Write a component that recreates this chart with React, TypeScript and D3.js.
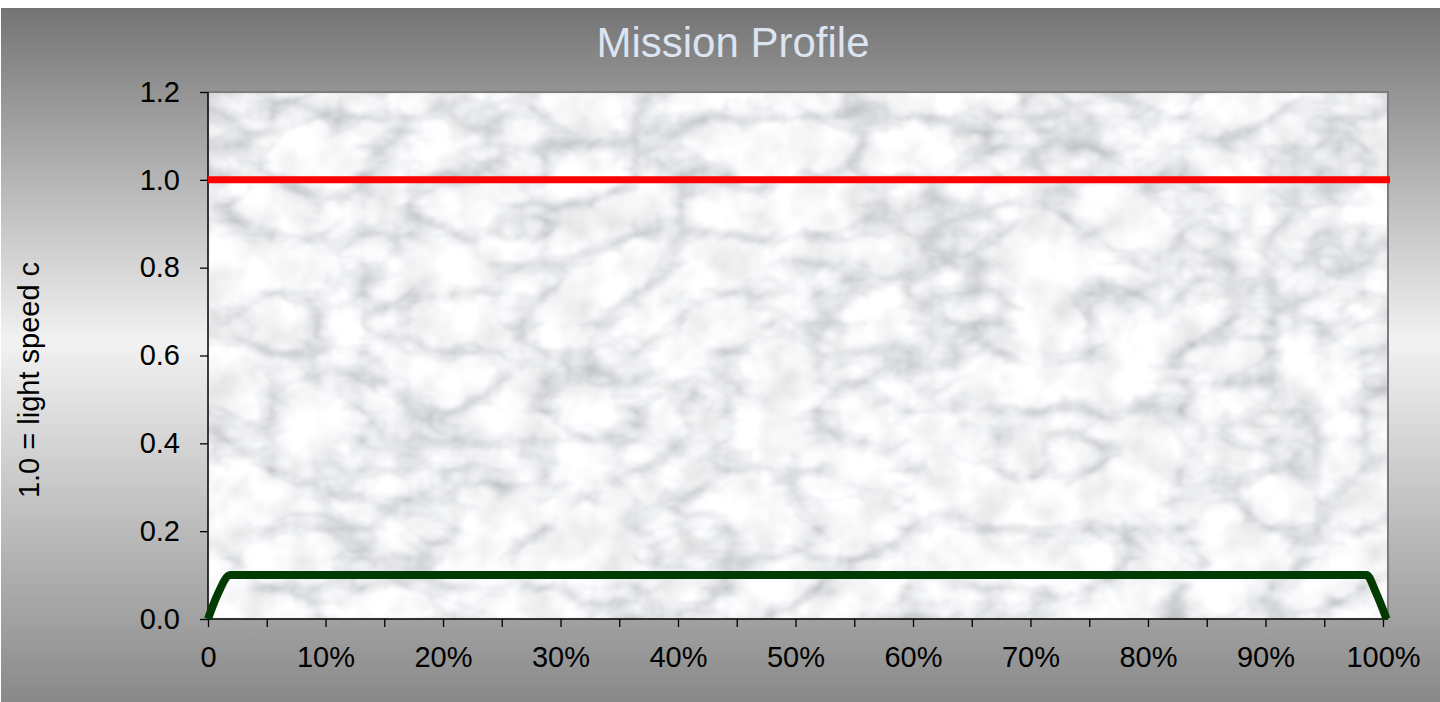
import React, { useEffect, useRef } from "react";
import * as d3 from "d3";

// mission progress (% of trip) and speed as a fraction of c
const missionPct = [0, 0.8, 1.9, 5.6, 50, 94.2, 98.6, 99.4, 100.3];
const cruiseSpeed = [0, 0.055, 0.1, 0.1, 0.1, 0.1, 0.1, 0.06, 0];
const lightPct = [0, 100.6];
const lightSpeed = [1, 1];

const yTicks = [0, 0.2, 0.4, 0.6, 0.8, 1.0, 1.2];
const xTickValues = [0, 5, 10, 15, 20, 25, 30, 35, 40, 45, 50, 55, 60, 65, 70, 75, 80, 85, 90, 95, 100];
const xTickLabels = ["0", "10%", "20%", "30%", "40%", "50%", "60%", "70%", "80%", "90%", "100%"];

const FONT = "'Liberation Sans', Arial, sans-serif";

const App = () => {
  const chartRef = useRef<SVGSVGElement>(null);

  useEffect(() => {
    const svg = d3.select(chartRef.current);
    svg.selectAll("*").remove();

    const width = 1440;
    const height = 702;
    const plot = { left: 208, top: 92, right: 1388, bottom: 619 };

    const defs = svg.append("defs");

    const bg = defs
      .append("linearGradient")
      .attr("id", "bgGrad")
      .attr("x1", 0)
      .attr("y1", 0)
      .attr("x2", 0)
      .attr("y2", 1);
    bg.append("stop").attr("offset", "0%").attr("stop-color", "#747474");
    bg.append("stop").attr("offset", "48%").attr("stop-color", "#f2f2f2");
    bg.append("stop").attr("offset", "100%").attr("stop-color", "#898989");

    // marble-ish texture for the plot area: veins + cloudy patches
    const marble = defs
      .append("filter")
      .attr("id", "marble")
      .attr("filterUnits", "userSpaceOnUse")
      .attr("x", plot.left)
      .attr("y", plot.top)
      .attr("width", plot.right - plot.left)
      .attr("height", plot.bottom - plot.top);
    marble
      .append("feTurbulence")
      .attr("type", "turbulence")
      .attr("baseFrequency", "0.011 0.017")
      .attr("numOctaves", 5)
      .attr("seed", 11)
      .attr("result", "veinNoise");
    marble
      .append("feColorMatrix")
      .attr("in", "veinNoise")
      .attr("type", "matrix")
      .attr("values", "1.5 0 0 0 0.45  1.5 0 0 0 0.46  1.5 0 0 0 0.48  0 0 0 0 1")
      .attr("result", "veins");
    marble
      .append("feTurbulence")
      .attr("type", "fractalNoise")
      .attr("baseFrequency", "0.025")
      .attr("numOctaves", 3)
      .attr("seed", 4)
      .attr("result", "cloudNoise");
    marble
      .append("feColorMatrix")
      .attr("in", "cloudNoise")
      .attr("type", "matrix")
      .attr("values", "1.1 0 0 0 0.3  1.1 0 0 0 0.31  1.1 0 0 0 0.33  0 0 0 0 1")
      .attr("result", "clouds");
    marble
      .append("feComposite")
      .attr("in", "veins")
      .attr("in2", "clouds")
      .attr("operator", "arithmetic")
      .attr("k1", 0)
      .attr("k2", 0.6)
      .attr("k3", 0.4)
      .attr("k4", 0)
      .attr("result", "mix");
    marble.append("feGaussianBlur").attr("in", "mix").attr("stdDeviation", 1);

    svg
      .append("rect")
      .attr("x", 1)
      .attr("y", 8)
      .attr("width", width - 1)
      .attr("height", height - 8)
      .attr("fill", "url(#bgGrad)");

    svg
      .append("rect")
      .attr("x", plot.left)
      .attr("y", plot.top)
      .attr("width", plot.right - plot.left)
      .attr("height", plot.bottom - plot.top)
      .attr("fill", "#e2e3e6")
      .attr("filter", "url(#marble)");

    // top/right plot border
    svg
      .append("path")
      .attr("d", `M${plot.left},${plot.top}H${plot.right}V${plot.bottom}`)
      .attr("fill", "none")
      .attr("stroke", "#7c7c7c")
      .attr("stroke-width", 2);

    const x = d3.scaleLinear().domain([0, 100]).range([plot.left, 1383]);
    const y = d3.scaleLinear().domain([0, 1.2]).range([plot.bottom, plot.top]);

    const yAxis = svg
      .append("g")
      .attr("transform", `translate(${plot.left},0)`)
      .call(
        d3
          .axisLeft(y)
          .tickValues(yTicks)
          .tickFormat(d3.format(".1f"))
          .tickSize(8)
          .tickSizeOuter(0)
          .tickPadding(20)
      );

    const labelAt = (d) => (d % 10 === 0 ? xTickLabels[d / 10] : "");
    const xAxis = svg
      .append("g")
      .attr("transform", `translate(0,${plot.bottom})`)
      .call(
        d3
          .axisBottom(x)
          .tickValues(xTickValues)
          .tickFormat(labelAt)
          .tickSize(8)
          .tickSizeOuter(0)
          .tickPadding(19)
      );

    [yAxis, xAxis].forEach((g) => {
      g.attr("font-family", FONT).attr("font-size", 29);
      g.selectAll("text").attr("fill", "#000");
      g.selectAll("line").attr("stroke", "#000").attr("stroke-width", 1.3);
      g.select(".domain").attr("stroke", "#000").attr("stroke-width", 1.5);
    });
    yAxis.select(".domain").attr("d", `M0,${plot.bottom}V${plot.top}`);
    xAxis.select(".domain").attr("d", `M${plot.left},0H${plot.right}`);

    const line = d3
      .line<number>()
      .x((d, i) => x(missionPct[i]))
      .y((d) => y(d))
      .curve(d3.curveMonotoneX);

    svg
      .append("path")
      .attr("d", line(cruiseSpeed))
      .attr("fill", "none")
      .attr("stroke", "#013a03")
      .attr("stroke-width", 8)
      .attr("stroke-linejoin", "round");

    const lightLine = d3
      .line<number>()
      .x((d, i) => x(lightPct[i]))
      .y((d) => y(d));

    svg
      .append("path")
      .attr("d", lightLine(lightSpeed))
      .attr("fill", "none")
      .attr("stroke", "#ff0000")
      .attr("stroke-width", 7);

    svg
      .append("text")
      .attr("x", 733)
      .attr("y", 57)
      .attr("text-anchor", "middle")
      .attr("font-family", FONT)
      .attr("font-size", 42)
      .attr("fill", "#dbe4f0")
      .text("Mission Profile");

    svg
      .append("text")
      .attr("transform", `translate(39,380) rotate(-90)`)
      .attr("text-anchor", "middle")
      .attr("font-family", FONT)
      .attr("font-size", 29)
      .attr("fill", "#000")
      .text("1.0 = light speed c");
  }, []);

  return (
    <svg
      ref={chartRef}
      width={1440}
      height={702}
      style={{ position: "absolute", left: 0, top: 0, display: "block" }}
    />
  );
};

export default App;
